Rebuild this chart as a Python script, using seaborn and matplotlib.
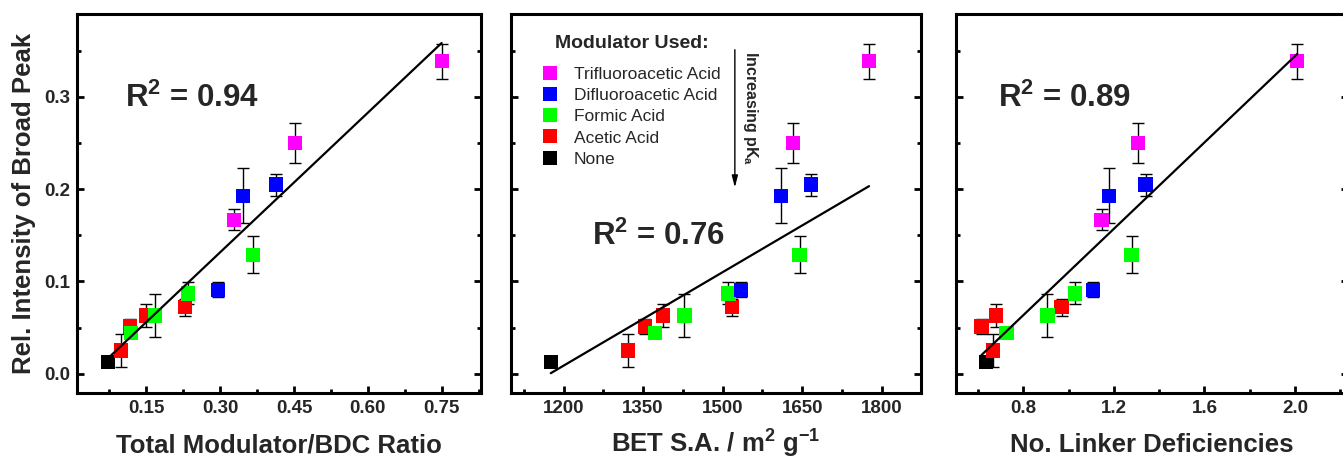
import numpy as np
import pandas as pd
import matplotlib
matplotlib.use("Agg")
import matplotlib.pyplot as plt
from matplotlib.ticker import MultipleLocator
import seaborn as sns

# ---------------- data ----------------
modulator = ["None",
             "Acetic Acid", "Acetic Acid", "Acetic Acid", "Acetic Acid",
             "Formic Acid", "Formic Acid", "Formic Acid", "Formic Acid",
             "Difluoroacetic Acid", "Difluoroacetic Acid", "Difluoroacetic Acid",
             "Trifluoroacetic Acid", "Trifluoroacetic Acid", "Trifluoroacetic Acid"]
ratio = [0.072, 0.099, 0.116, 0.150, 0.228, 0.118, 0.167, 0.235, 0.366,
         0.296, 0.347, 0.414, 0.328, 0.452, 0.750]
bet = [1176, 1322, 1353, 1387, 1517, 1373, 1428, 1511, 1645,
       1535, 1610, 1667, np.nan, 1632, 1776]
linker_def = [0.635, 0.667, 0.616, 0.678, 0.969, 0.726, 0.907, 1.028, 1.278,
              1.109, 1.178, 1.340, 1.146, 1.308, 2.010]
intensity = [0.013, 0.025, 0.051, 0.063, 0.072, 0.044, 0.063, 0.087, 0.129,
             0.091, 0.193, 0.205, 0.167, 0.250, 0.339]
intensity_err = [0.0, 0.018, 0.008, 0.012, 0.009, 0.004, 0.023, 0.012, 0.020,
                 0.008, 0.030, 0.012, 0.011, 0.022, 0.019]

# published linear fit for the BET panel (slope, intercept)
bet_fit_slope = 0.000338
bet_fit_intercept = -0.397

hue_order = ["Trifluoroacetic Acid", "Difluoroacetic Acid", "Formic Acid",
             "Acetic Acid", "None"]
colors = ["#FF00FF", "#0000FF", "#00FF00", "#FF0000", "#000000"]
r2_labels = ["0.94", "0.76", "0.89"]
x_labels = ["Total Modulator/BDC Ratio", r"BET S.A. / m$^{2}$ g$^{-1}$",
            "No. Linker Deficiencies"]
y_label = "Rel. Intensity of Broad Peak"

df = pd.DataFrame({"mod": modulator, "ratio": ratio, "bet": bet,
                   "link": linker_def, "y": intensity, "err": intensity_err})

# ---------------- style ----------------
sns.set_style("ticks")
plt.rcParams["font.family"] = ["Liberation Sans", "DejaVu Sans"]
plt.rcParams["font.weight"] = "bold"
plt.rcParams["mathtext.default"] = "regular"

W, H = 1343, 457
fig = plt.figure(figsize=(W / 100, H / 100), dpi=100)
boxes = [(77, 404), (511, 410), (956, 392)]
axes = [fig.add_axes([l / W, 64 / H, w / W, 379 / H]) for l, w in boxes]

xcols = ["ratio", "bet", "link"]
xlims = [(0.009, 0.83), (1101, 1874), (0.503, 2.234)]
xmajor = [0.15, 150, 0.4]
xminor = [0.075, 75, 0.2]
xfmt = ["{:.2f}", "{:.0f}", "{:.1f}"]
r2_pos = [(0.119, 0.755), (0.198, 0.390), (0.106, 0.755)]
palette = dict(zip(hue_order, colors))

for i, ax in enumerate(axes):
    col = xcols[i]
    d = df.dropna(subset=[col])
    ax.errorbar(d[col], d["y"], yerr=d["err"], fmt="none", ecolor="black",
                elinewidth=1.0, capsize=4, capthick=1.0, zorder=1)
    sns.scatterplot(data=d, x=col, y="y", hue="mod", hue_order=hue_order,
                    palette=palette, marker="s", s=105, linewidth=0,
                    legend=(i == 1), ax=ax, zorder=2)
    if col == "bet":
        fx = np.array([d[col].min(), d[col].max()])
        sns.lineplot(x=fx, y=bet_fit_slope * fx + bet_fit_intercept,
                     color="black", lw=1.6, zorder=3, ax=ax)
    else:
        sns.regplot(data=d, x=col, y="y", scatter=False, ci=None, truncate=True,
                    line_kws=dict(color="black", lw=1.6, zorder=3), ax=ax)
    ax.set_xlim(*xlims[i])
    ax.set_ylim(-0.021, 0.39)
    ax.xaxis.set_major_locator(MultipleLocator(xmajor[i]))
    ax.xaxis.set_minor_locator(MultipleLocator(xminor[i]))
    ax.yaxis.set_major_locator(MultipleLocator(0.1))
    ax.yaxis.set_minor_locator(MultipleLocator(0.05))
    ax.set_xticks(ax.get_xticks())
    ax.set_xticklabels([xfmt[i].format(v) for v in ax.get_xticks()])
    ax.set_xlim(*xlims[i])
    for sp in ax.spines.values():
        sp.set_visible(True)
        sp.set_linewidth(2.2)
        sp.set_color("black")
    ax.tick_params(which="both", direction="in", top=False, bottom=True,
                   left=True, right=True, color="black")
    ax.tick_params(which="major", length=5, width=2.0, labelsize=13.5, pad=5)
    ax.tick_params(which="minor", length=3, width=2.0)
    ax.tick_params(axis="y", labelleft=(i == 0))
    for lab in ax.get_xticklabels() + ax.get_yticklabels():
        lab.set_fontweight("bold")
    ax.set_xlabel(x_labels[i], fontsize=18.5, fontweight="bold")
    ax.xaxis.label.set_va("baseline")
    ax.xaxis.set_label_coords(0.5, -0.156)
    if i == 0:
        ax.set_ylabel(y_label, fontsize=18.5, fontweight="bold")
        ax.yaxis.label.set_va("center")
        ax.yaxis.set_label_coords(-0.130, 0.5)
        ax.set_yticklabels([f"{v:.1f}" for v in ax.get_yticks()])
        ax.set_ylim(-0.021, 0.39)
    else:
        ax.set_ylabel("")
    ax.text(r2_pos[i][0], r2_pos[i][1], "R$^{2}$ = " + r2_labels[i],
            transform=ax.transAxes, fontsize=22.5, fontweight="bold",
            ha="left", va="baseline")

# legend on middle panel
ax2 = axes[1]
handles, labels = ax2.get_legend_handles_labels()
if ax2.get_legend() is not None:
    ax2.get_legend().remove()
leg = ax2.legend(handles, labels, loc="upper left",
                 bbox_to_anchor=(0.073, 0.861), frameon=False, borderpad=0,
                 fontsize=12.5, handlelength=1.0, handletextpad=0.9,
                 labelspacing=0.35, borderaxespad=0)
for t in leg.get_texts():
    t.set_fontweight("normal")
for h in leg.legend_handles:
    try:
        h.set_markersize(10.5)
    except Exception:
        pass
ax2.text(0.295, 0.923, "Modulator Used:", transform=ax2.transAxes,
         fontsize=14, fontweight="bold", ha="center", va="center")

ax2.annotate("", xy=(0.546, 0.535), xytext=(0.546, 0.913),
             xycoords="axes fraction",
             arrowprops=dict(arrowstyle="-|>,head_length=0.7,head_width=0.18",
                             color="black", lw=1.0))
ax2.text(0.585, 0.752, "Increasing pK$_{a}$", transform=ax2.transAxes,
         rotation=270, fontsize=11.5, fontweight="bold", ha="center", va="center")

fig.savefig("out.png", dpi=100)
